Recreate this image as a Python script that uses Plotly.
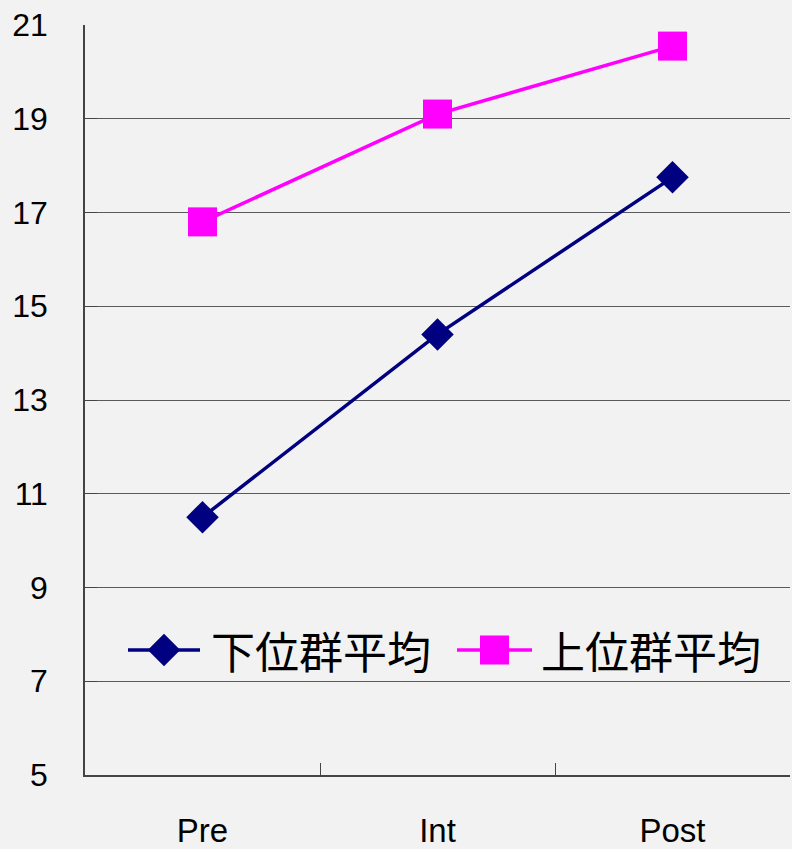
import plotly.graph_objects as go

# Test phases and group means
phases = ["Pre", "Int", "Post"]
lower_mean = [10.5, 14.4, 17.75]
upper_mean = [16.8, 19.1, 20.55]
y_ticks = [5, 7, 9, 11, 13, 15, 17, 19, 21]
series_names = ["下位群平均", "上位群平均"]

NAVY = "#000080"
MAGENTA = "#ff00ff"
BG = "#f2f2f2"
GRID = "#5a5a5a"
Y_TICK_FONT = dict(family="Liberation Sans, Arial, sans-serif", size=32, color="#000000")
X_TICK_FONT = dict(family="Liberation Sans, Arial, sans-serif", size=33, color="#000000")
CJK_FONT = dict(family="Noto Sans CJK JP, sans-serif", size=44, color="#000000")

W, H = 792, 849
M_L, M_R, M_T, M_B = 85, 2, 25, 74
PLOT_W, PLOT_H = W - M_L - M_R, H - M_T - M_B


def fx(px):
    """Pixel column -> fraction of the plot area."""
    return (px - M_L) / PLOT_W


def fy(py):
    """Pixel row -> fraction of the plot area."""
    return (H - M_B - py) / PLOT_H


fig = go.Figure()

fig.add_trace(go.Scatter(
    x=phases, y=lower_mean, mode="lines+markers", name=series_names[0],
    line=dict(color=NAVY, width=3.5),
    marker=dict(symbol="diamond", size=25, color=NAVY),
    showlegend=False, cliponaxis=False,
))
fig.add_trace(go.Scatter(
    x=phases, y=upper_mean, mode="lines+markers", name=series_names[1],
    line=dict(color=MAGENTA, width=3.5),
    marker=dict(symbol="square", size=29, color=MAGENTA),
    showlegend=False, cliponaxis=False,
))

# Hand-built legend on an overlay axis spanning the plot area
legend_y = fy(650)
legend_items = [
    dict(x0=fx(128), x1=fx(200), tx=fx(209), color=NAVY, symbol="diamond", size=25),
    dict(x0=fx(457), x1=fx(532), tx=fx(539), color=MAGENTA, symbol="square", size=29),
]
for item, name in zip(legend_items, series_names):
    fig.add_trace(go.Scatter(
        x=[item["x0"], item["x1"]], y=[legend_y, legend_y], mode="lines",
        line=dict(color=item["color"], width=3.5),
        xaxis="x2", yaxis="y2", showlegend=False, hoverinfo="skip",
    ))
    fig.add_trace(go.Scatter(
        x=[(item["x0"] + item["x1"]) / 2], y=[legend_y], mode="markers",
        marker=dict(symbol=item["symbol"], size=item["size"], color=item["color"]),
        xaxis="x2", yaxis="y2", showlegend=False, hoverinfo="skip",
    ))
    fig.add_annotation(
        x=item["tx"], y=legend_y, xref="paper", yref="paper",
        text=name, showarrow=False, xanchor="left", yanchor="middle",
        font=CJK_FONT,
    )

fig.update_layout(
    width=W, height=H,
    margin=dict(l=M_L, r=M_R, t=M_T, b=M_B, autoexpand=False),
    paper_bgcolor=BG, plot_bgcolor=BG,
    showlegend=False,
    xaxis=dict(
        type="category", range=[-0.5, 2.5], automargin=False,
        showgrid=False, zeroline=False,
        showline=True, linecolor="#444444", linewidth=1.5,
        ticks="inside", tickson="boundaries", ticklen=12, tickcolor="#444444", tickwidth=1.2,
        tickfont=X_TICK_FONT, ticklabelstandoff=26,
    ),
    yaxis=dict(
        range=[5, 21], tickvals=y_ticks, automargin=False,
        showgrid=True, gridcolor=GRID, gridwidth=1.3,
        zeroline=False,
        showline=True, linecolor="#444444", linewidth=1.5,
        ticks="inside", ticklen=12, tickcolor="#444444", tickwidth=1.2,
        tickfont=Y_TICK_FONT, ticklabelstandoff=29,
    ),
    xaxis2=dict(range=[0, 1], overlaying="x", visible=False, anchor="y2"),
    yaxis2=dict(range=[0, 1], overlaying="y", visible=False, anchor="x2"),
)

fig.write_html("out.html")
